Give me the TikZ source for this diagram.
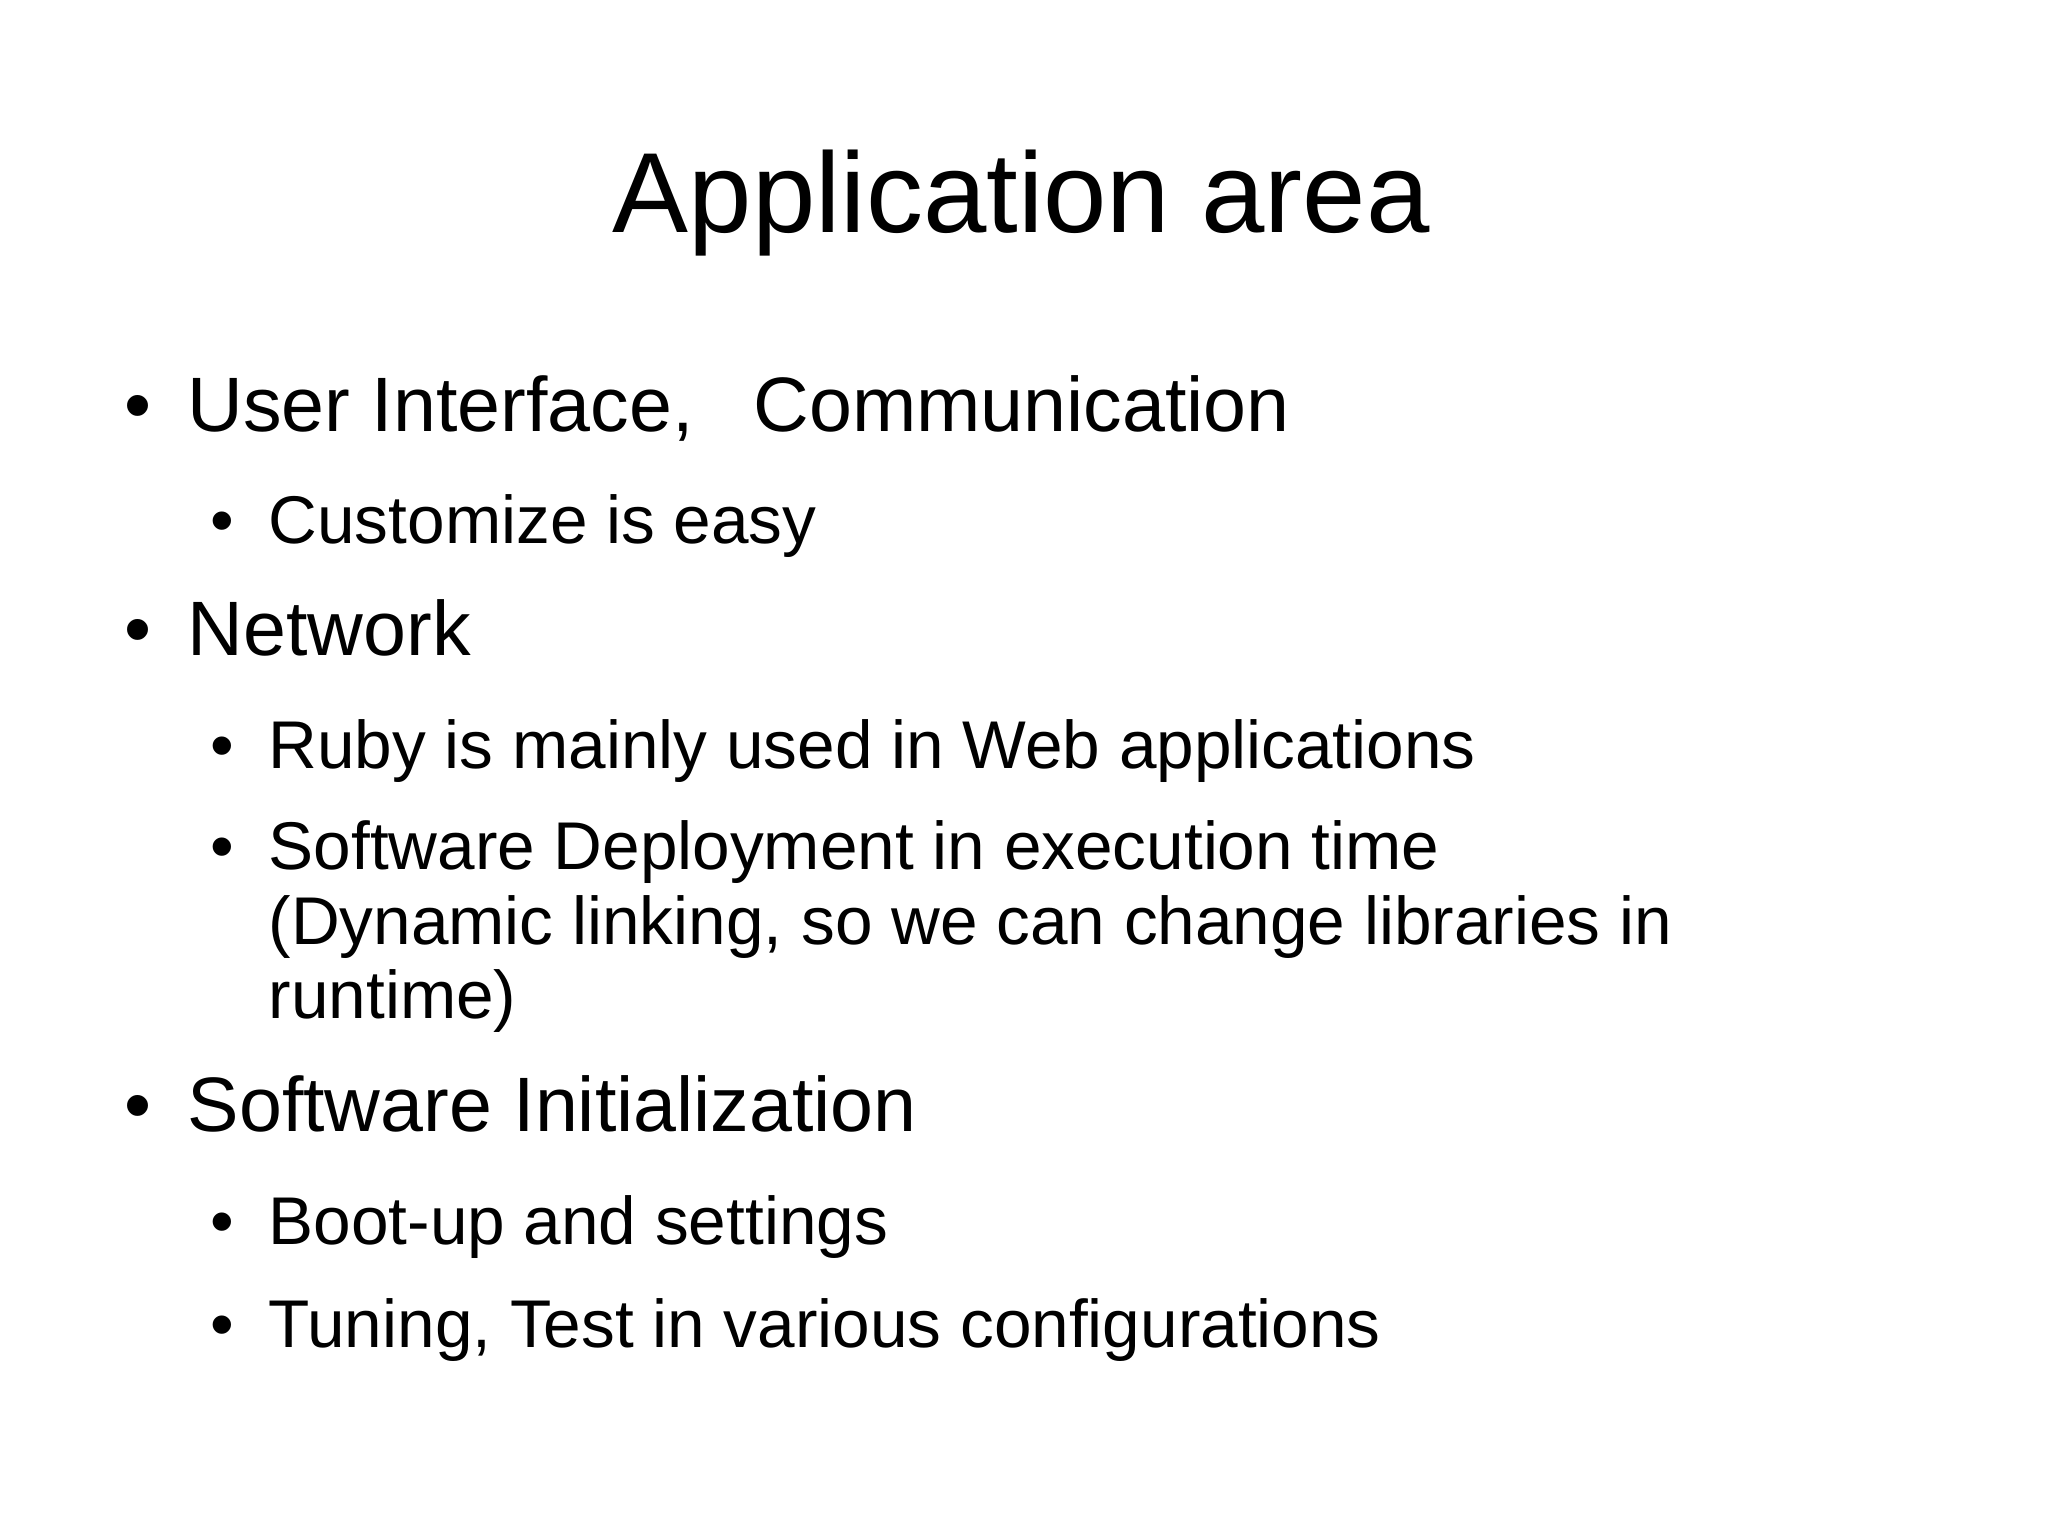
\documentclass[tikz,border=0pt]{standalone}
\usepackage{fontspec}
\setmainfont{Liberation Sans}
\usetikzlibrary{positioning}

\begin{document}
\begin{tikzpicture}[x=0.01cm, y=-0.01cm,
             title/.style = {anchor=base, inner sep=0pt, font=\fontsize{24.8}{30}\selectfont},
            itemA/.style = {anchor=base west, inner sep=0pt, font=\fontsize{16.8}{20}\selectfont},
            itemB/.style = {anchor=base west, inner sep=0pt, align=left, font=\fontsize{14.7}{16.2}\selectfont},
           bulletA/.style = {anchor=base, inner sep=0pt, font=\fontsize{16.8}{20}\selectfont},
           bulletB/.style = {anchor=base, inner sep=0pt, font=\fontsize{14.7}{16.2}\selectfont},
]
\useasboundingbox (0,0) rectangle (1568,1175);
\node [title] (ttl) at (782,178) {Application area};
%% first level
\node [bulletA] (b1) at (106,330) {\textbullet};
\node [itemA]   (ui) at (143,330) {User Interface,\hspace{0.5em} Communication};
\node [bulletA] (b2) at (106,502) {\textbullet};
\node [itemA]   (net) at (143,502) {Network};
\node [bulletA] (b3) at (106,866) {\textbullet};
\node [itemA]   (init) at (143,866) {Software Initialization};
%% second level
\node [bulletB] (c1) at (170,416) {\textbullet};
\node [itemB]   (cust) at (205,416) {Customize is easy};
\node [bulletB] (c2) at (170,588) {\textbullet};
\node [itemB]   (ruby) at (205,588) {Ruby is mainly used in Web applications};
\node [bulletB] (c3) at (170,666) {\textbullet};
\node [itemB]   (depl) at (205,780) {Software Deployment in execution time\\(Dynamic linking, so we can change libraries in\\runtime)};
\node [bulletB] (c4) at (170,953) {\textbullet};
\node [itemB]   (boot) at (205,953) {Boot-up and settings};
\node [bulletB] (c5) at (170,1032) {\textbullet};
\node [itemB]   (tune) at (205,1032) {Tuning, Test in various configurations};
\end{tikzpicture}
\end{document}
